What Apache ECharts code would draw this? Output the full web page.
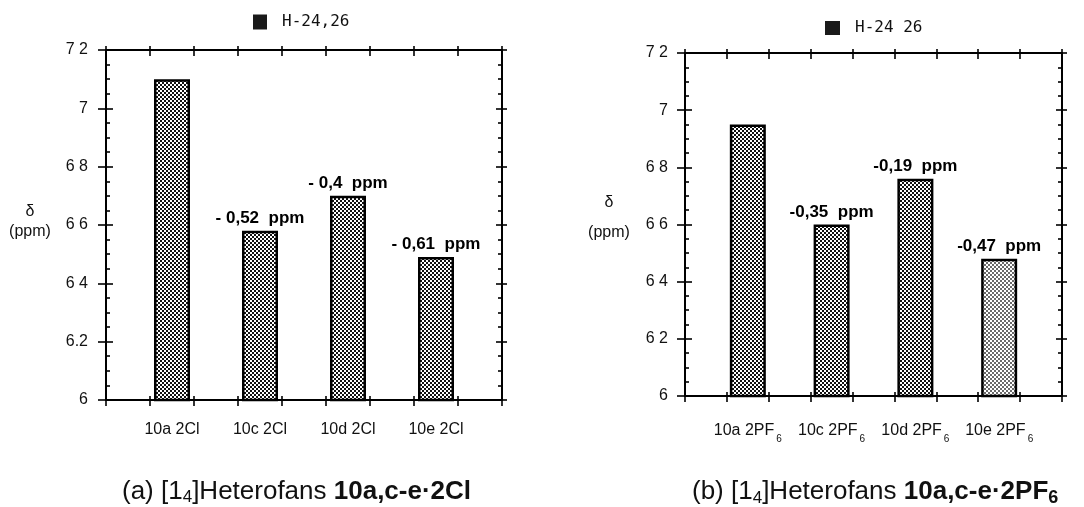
<!DOCTYPE html>
<html>
<head>
<meta charset="utf-8">
<script src="https://cdn.jsdelivr.net/npm/echarts@6/dist/echarts.min.js"></script>
<style>html,body{margin:0;padding:0;background:#fff}#c{width:1084px;height:507px}</style>
</head>
<body>
<div id="c"></div>
<script>
// ---- data ----
const catsA = ['10a 2Cl', '10c 2Cl', '10d 2Cl', '10e 2Cl'];
const valsA = [7.10, 6.58, 6.70, 6.49];
const notesA = ['', '- 0,52  ppm', '- 0,4  ppm', '- 0,61  ppm'];
const seriesNameA = 'H-24,26';

const catsB = ['10a 2PF{s|6}', '10c 2PF{s|6}', '10d 2PF{s|6}', '10e 2PF{s|6}'];
const valsB = [6.95, 6.60, 6.76, 6.48];
const notesB = ['', '-0,35  ppm', '-0,19  ppm', '-0,47  ppm'];
const seriesNameB = 'H-24 26';

const yTicksA = ['6', '6.2', '6 4', '6 6', '6 8', '7', '7 2'];
const yTicksB = ['6', '6 2', '6 4', '6 6', '6 8', '7', '7 2'];
const yMin = 6, yMax = 7.2, yStep = 0.2;

const captionA = '(a) [1{s|4}]Heterofans {b|10a,c-e·2Cl}';
const captionB = '(b) [1{s|4}]Heterofans {b|10a,c-e·2PF}{bs|6}';

// ---- helpers ----
function pattern(fg) {
  const c = document.createElement('canvas');
  c.width = 4; c.height = 4;
  const g = c.getContext('2d');
  g.fillStyle = '#ffffff'; g.fillRect(0, 0, 4, 4);
  g.fillStyle = fg;
  g.fillRect(0, 0, 2, 2); g.fillRect(2, 2, 2, 2);
  return { image: c, repeat: 'repeat' };
}
// categories placed in every other slot of a 9-slot axis
function slots(cats) { const s = ['']; cats.forEach(c => { s.push(c); s.push(''); }); return s; }
function slotData(vals, notes, lightLast) {
  const d = [null];
  vals.forEach((v, i) => {
    const item = { value: v, label: { formatter: notes[i] || '' } };
    if (lightLast && i === vals.length - 1) item.itemStyle = { color: pattern('#6a6a6a') };
    d.push(item); d.push(null);
  });
  return d;
}
const FONT = 'Liberation Sans';
const black = '#000';
const TW = 1.6;

function axesFor(gi, cats, yTicks, opt) {
  const s = slots(cats);
  const xs = [
    { gridIndex: gi, type: 'category', position: 'bottom', data: s, boundaryGap: true,
      axisLine: { lineStyle: { color: black, width: 2 } },
      axisTick: { show: true, interval: 0, length: 6, lineStyle: { color: black, width: TW } },
      axisLabel: { interval: 0, margin: opt.xMargin, color: '#111', fontFamily: FONT, fontSize: 16,
        rich: { s: { fontSize: 10, fontFamily: FONT, color: '#111', padding: [16, 0, 0, 2] } } },
      splitLine: { show: false } },
    { gridIndex: gi, type: 'category', position: 'bottom', data: s, boundaryGap: true,
      axisLine: { show: false }, axisLabel: { show: false },
      axisTick: { show: true, inside: true, interval: 0, length: 4, lineStyle: { color: black, width: TW } } },
    { gridIndex: gi, type: 'category', position: 'top', data: s, boundaryGap: true,
      axisLine: { lineStyle: { color: black, width: 2 } }, axisLabel: { show: false },
      axisTick: { show: true, interval: 0, length: 4, lineStyle: { color: black, width: TW } } },
    { gridIndex: gi, type: 'category', position: 'top', data: s, boundaryGap: true,
      axisLine: { show: false }, axisLabel: { show: false },
      axisTick: { show: true, inside: true, interval: 0, length: 6, lineStyle: { color: black, width: TW } } }
  ];
  const base = { gridIndex: gi, type: 'value', min: yMin, max: yMax, interval: yStep, splitLine: { show: false } };
  const ys = [
    Object.assign({}, base, { position: 'left',
      axisLine: { show: true, lineStyle: { color: black, width: 2 } },
      axisTick: { show: true, length: 8, lineStyle: { color: black, width: TW } },
      axisLabel: { color: '#111', fontFamily: FONT, fontSize: 16, margin: opt.yMargin,
        formatter: v => yTicks[Math.round((v - yMin) / yStep)] },
      name: '{a|δ}\n{a|(ppm)}', nameLocation: 'middle', nameRotate: 0, nameGap: 53,
      nameTextStyle: { padding: opt.namePad,
        rich: { a: { fontFamily: FONT, fontSize: 16, color: '#111', width: 46, align: 'center', lineHeight: opt.nameLH } } } }),
    Object.assign({}, base, { position: 'left', axisLine: { show: false }, axisLabel: { show: false },
      axisTick: { show: true, inside: true, length: 7, lineStyle: { color: black, width: TW } },
      minorTick: { show: true, splitNumber: 4, length: 4, lineStyle: { color: black, width: TW } } }),
    Object.assign({}, base, { position: 'right',
      axisLine: { show: true, lineStyle: { color: black, width: 2 } }, axisLabel: { show: false },
      axisTick: { show: true, length: 5, lineStyle: { color: black, width: TW } } }),
    Object.assign({}, base, { position: 'right', axisLine: { show: false }, axisLabel: { show: false },
      axisTick: { show: true, inside: true, length: 6, lineStyle: { color: black, width: TW } },
      minorTick: { show: true, splitNumber: 4, length: 4, lineStyle: { color: black, width: TW } } })
  ];
  return { xs, ys };
}

const A = axesFor(0, catsA, yTicksA, { nameLH: 20, namePad: [0, 0, 6, 0], yMargin: 18, xMargin: 22 });
const B = axesFor(1, catsB, yTicksB, { nameLH: 30, namePad: [0, 0, 13, 0], yMargin: 17, xMargin: 22 });

function barSeries(name, xi, yi, vals, notes, lightLast) {
  return {
    name, type: 'bar', xAxisIndex: xi, yAxisIndex: yi, barWidth: 36,
    data: slotData(vals, notes, lightLast),
    itemStyle: { color: pattern('#111'), borderColor: black, borderWidth: 2.5 },
    label: { show: true, position: 'top', distance: 4, color: '#000', fontFamily: FONT,
      fontSize: 17, fontWeight: 'bold' }
  };
}

const CAP = 26;
const capRich = {
  s: { fontFamily: FONT, fontSize: 17, color: '#111', padding: [12, 0, 0, 0] },
  b: { fontFamily: FONT, fontSize: CAP, fontWeight: 'bold', color: '#111' },
  bs: { fontFamily: FONT, fontSize: 18, fontWeight: 'bold', color: '#111', padding: [12, 0, 0, 0] }
};
const legendText = { fontFamily: 'DejaVu Sans Mono', fontSize: 16, color: '#111', padding: [0, 0, 0, 10] };

const option = {
  animation: false,
  backgroundColor: '#fff',
  grid: [
    { left: 106, right: 582, top: 50, bottom: 107 },
    { left: 685, right: 22, top: 53, bottom: 111 }
  ],
  xAxis: A.xs.concat(B.xs),
  yAxis: A.ys.concat(B.ys),
  legend: [
    { data: [seriesNameA], left: 253, top: 14, padding: 0, icon: 'rect', itemWidth: 14, itemHeight: 15,
      itemStyle: { color: '#1a1a1a', borderWidth: 0 }, textStyle: legendText },
    { data: [seriesNameB], left: 825, top: 20, padding: 0, icon: 'rect', itemWidth: 15, itemHeight: 14,
      itemStyle: { color: '#1a1a1a', borderWidth: 0 }, textStyle: legendText }
  ],
  title: [
    { text: captionA, left: 122, top: 477, padding: 0,
      textStyle: { fontFamily: FONT, fontSize: CAP, fontWeight: 'normal', color: '#111', rich: capRich } },
    { text: captionB, left: 692, top: 477, padding: 0,
      textStyle: { fontFamily: FONT, fontSize: CAP, fontWeight: 'normal', color: '#111', rich: capRich } }
  ],
  series: [
    barSeries(seriesNameA, 0, 0, valsA, notesA, false),
    barSeries(seriesNameB, 4, 4, valsB, notesB, true)
  ]
};
const chart = echarts.init(document.getElementById('c'), null, { renderer: 'canvas' });
chart.setOption(option);
</script>
</body>
</html>
